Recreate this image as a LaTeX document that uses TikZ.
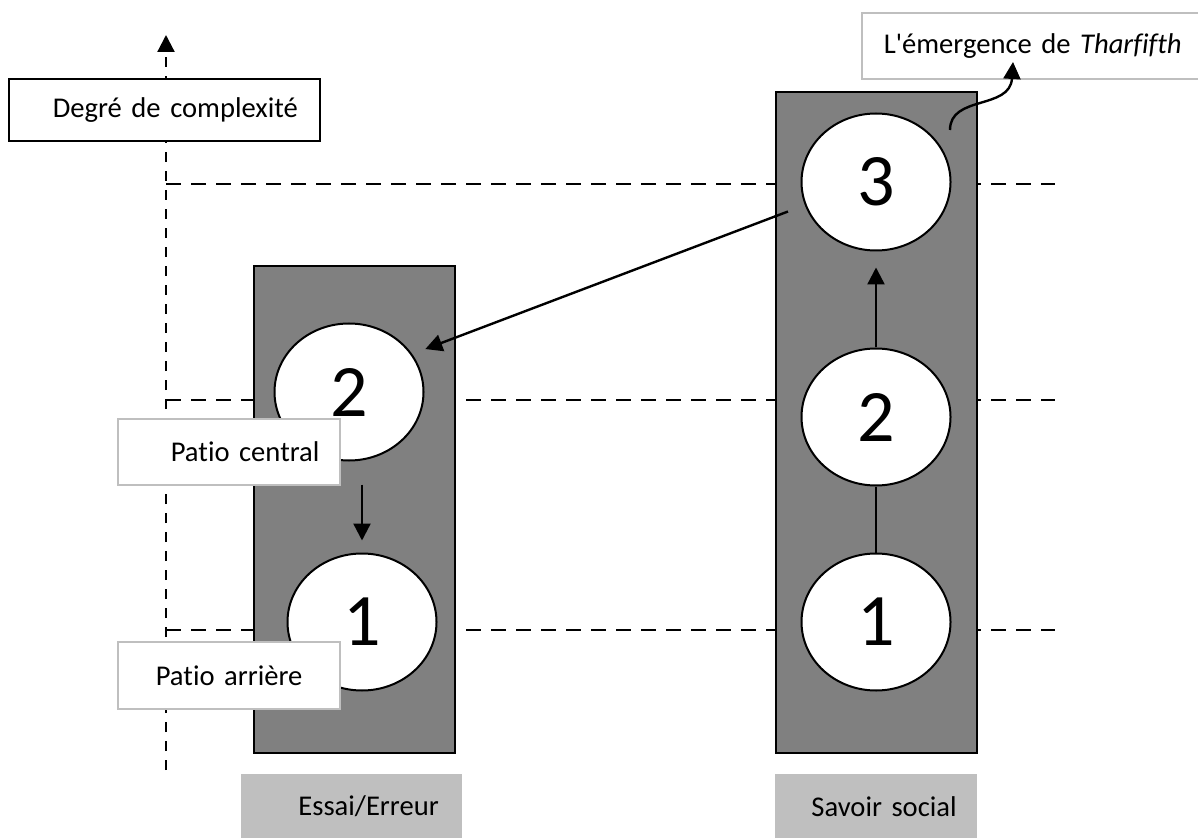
\documentclass[tikz,border=0pt]{standalone}
\usepackage{fontspec}
\setmainfont{Carlito}[Ligatures={NoCommon,TeXOff}]
\usepackage{xcolor}
\usepackage{tikz}
\usetikzlibrary{shapes,arrows.meta,positioning,calc}
\definecolor{colGray}{RGB}{128,128,128}
\definecolor{tagGray}{RGB}{191,191,191}

\begin{document}
\begin{tikzpicture}[
    x=0.5pt, y=-0.5pt,
    >={Triangle[length=8.5pt,width=8.5pt]},
    column/.style={rectangle, draw, line width=1pt, fill=colGray, minimum width=100.5pt, inner sep=0pt},
    stage/.style={ellipse, draw, line width=1pt, fill=white, minimum width=74.5pt, minimum height=68.5pt, inner sep=0pt, font=\fontsize{37}{37}\selectfont},
    tag/.style={rectangle, anchor=north west, inner sep=0pt, align=left, font=\fontsize{14.3}{17}\selectfont},
    level/.style={line width=1pt, dash pattern=on 7.5pt off 5pt},
    arrow/.style={->, line width=1.2pt}
]
    \useasboundingbox (0,0) rectangle (1198,839);
    \clip (0,0) rectangle (1198,839);

    % Axis and levels
    \coordinate (axbot) at (166,770);
    \coordinate (axtop) at (166,35);
    \draw[->, line width=1.1pt, dash pattern=on 5pt off 4.5pt] (axbot) -- (axtop);
    \foreach \y in {184,400,630}
        \draw[level] (166,\y) -- (1055,\y);

    % Columns
    \node[column, minimum height=243.5pt] (colL) at (354,509.5) {};
    \node[column, minimum height=330.5pt] (colR) at (876.5,422.5) {};

    % Stages
    \node[stage] (t2) at (349,392) {2};
    \node[stage] (t1) at (362,622) {1};
    \node[stage] (s3) at (876,182) {3};
    \node[stage] (s2) at (876,417) {2};
    \node[stage] (s1) at (876,622) {1};

    % Labels
    \node[tag, draw, line width=0.8pt, fill=white, text width=155.5pt, minimum height=31pt] (deg) at (8,78) {\hspace*{22pt}Degré de complexité};
    \node[tag, draw=tagGray, line width=0.8pt, fill=white, text width=174.5pt, minimum height=33pt] (emerg) at (861,12) {\hspace*{11pt}L'émergence de \textit{Tharfifth}};
    \node[tag, draw=tagGray, line width=0.8pt, fill=white, text width=111pt, minimum height=33pt] (pcentral) at (117,418) {\hspace*{26.5pt}Patio central};
    \node[tag, draw=tagGray, line width=0.8pt, fill=white, text width=111pt, minimum height=33.5pt] (parriere) at (117,641) {\hspace*{19pt}Patio arrière};
    \node[tag, fill=tagGray, text width=110.5pt, minimum height=32pt] (essai) at (241,774) {\hspace*{28.5pt}Essai/Erreur};
    \node[tag, fill=tagGray, text width=101pt, minimum height=32pt] (savoir) at (775,774) {\hspace*{18pt}Savoir social};

    % Arrows
    \draw[arrow, shorten <=11.5pt, shorten >=6pt] (t1.north |- t2.south) -- (t1.north);
    \draw[line width=1.2pt] (s1) -- (s2);
    \draw[arrow, shorten >=8pt] (s2) -- (s3);
    \draw[arrow, shorten <=9pt, shorten >=7pt] (s3.198) -- (t2.31);

    % Emergence arrow
    \coordinate (emstart) at (950,130);
    \coordinate (emtip) at (1013,62);
    \draw[arrow] (emstart) .. controls (950,95) and (1010,110) .. (emtip);
\end{tikzpicture}
\end{document}
